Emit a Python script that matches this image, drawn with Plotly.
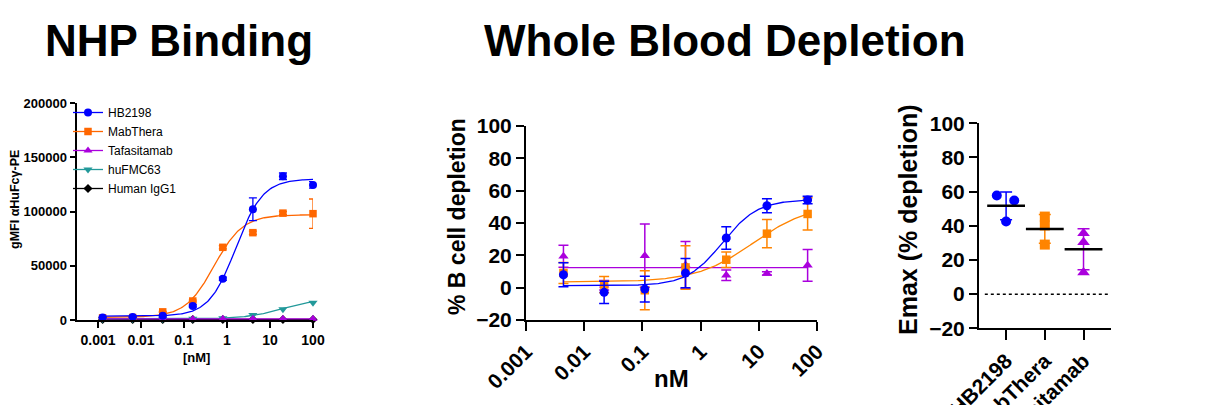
import numpy as np
import plotly.graph_objects as go

# ---------------- data: NHP binding ----------------
bind_dose = [0.00128, 0.0064, 0.032, 0.16, 0.8, 4, 20, 100]
hb_bind = [2200, 2800, 4000, 13000, 38000, 102000, 132500, 124500]
hb_bind_err = [300, 300, 500, 1000, 1500, 10500, 3000, 3000]
mab_bind = [2000, 2300, 7500, 17500, 67000, 80500, 98500, 98000]
mab_bind_err = [300, 300, 500, 800, 1500, 1500, 1500, 13500]
tafa_bind = [1000, 1000, 1000, 1000, 1100, 1100, 1200, 1200]
hufmc_bind = [900, 900, 1000, 1200, 1600, 4500, 10000, 16000]
igg_bind = [500, 500, 500, 500, 500, 500, 500, 500]

# 4PL fit parameters (bottom, top, EC50, hill)
hb_bind_fit = (3500, 130000, 1.62, 1.39)
mab_bind_fit = (2500, 97000, 0.5, 1.3)
tafa_bind_fit = (1100, 1100, 1.0, 1.0)
hufmc_bind_fit = (1000, 20000, 20.0, 1.0)
igg_bind_fit = (500, 500, 1.0, 1.0)

# ---------------- data: whole blood depletion ----------------
dep_dose = [0.0044, 0.022, 0.11, 0.55, 2.76, 13.8, 69]
hb_dep = [8.0, -2.9, -0.9, 9.0, 30.7, 50.7, 54.2]
hb_dep_err = [7.4, 6.9, 8.0, 9.0, 7.0, 4.3, 2.3]
mab_dep = [9.1, 1.9, -1.6, 12.5, 17.3, 33.4, 45.6]
mab_dep_err = [6.5, 5.0, 12.0, 13.5, 4.8, 8.7, 10.0]
tafa_dep = [19.4, 1.5, 19.8, 14.0, 7.7, 8.8, 13.8]
tafa_dep_err = [6.8, 3.0, 19.6, 14.5, 3.2, 1.0, 9.8]

hb_dep_fit = (1.2, 54.5, 2.37, 1.43)
mab_dep_fit = (3.5, 52.0, 8.1, 0.886)
tafa_dep_fit = (12.4, 12.4, 1.0, 1.0)

# ---------------- data: Emax ----------------
groups = ["HB2198", "MabThera", "Tafasitamab"]
hb_emax = [57.7, 54.8, 42.5]
mab_emax = [45.4, 40.2, 29.0]
tafa_emax = [35.7, 30.4, 12.7]
hb_jitter = [-0.24, 0.21, 0.0]

BLUE = "#0000FF"
ORANGE_L = "#FF6600"
ORANGE = "#FF8400"
PURPLE = "#AA00DD"
TEAL = "#22999A"
BLACK = "#000000"

FONT = "Liberation Sans"


def four_pl(x, p):
    b, t, c, h = p
    x = np.asarray(x, dtype=float)
    return b + (t - b) / (1.0 + (c / x) ** h)


def curve_x(doses):
    return np.logspace(np.log10(min(doses)), np.log10(max(doses)), 200)


fig = go.Figure()

# ---------------- left panel ----------------
left_series = [
    ("Human IgG1", igg_bind, None, igg_bind_fit, BLACK, "diamond", 7, 5),
    ("huFMC63", hufmc_bind, None, hufmc_bind_fit, TEAL, "triangle-down", 8, 4),
    ("Tafasitamab", tafa_bind, None, tafa_bind_fit, PURPLE, "triangle-up", 8, 3),
    ("MabThera", mab_bind, mab_bind_err, mab_bind_fit, ORANGE_L, "square", 7.5, 2),
    ("HB2198", hb_bind, hb_bind_err, hb_bind_fit, BLUE, "circle", 8, 1),
]
for name, vals, err, fit, col, sym, sz, rank in left_series:
    cx = curve_x(bind_dose)
    fig.add_trace(go.Scatter(x=cx, y=four_pl(cx, fit), mode="lines",
                             line=dict(color=col, width=1.3), showlegend=False,
                             hoverinfo="skip", xaxis="x", yaxis="y", cliponaxis=False))
    fig.add_trace(go.Scatter(
        x=bind_dose, y=vals, mode="markers",
        marker=dict(color=col, symbol=sym, size=sz, line=dict(width=0)),
        error_y=(dict(type="data", array=err, color=col, thickness=1.3, width=4)
                 if err is not None else None),
        showlegend=False, xaxis="x", yaxis="y", cliponaxis=False))
    fig.add_trace(go.Scatter(x=[None], y=[None], mode="lines+markers", name=name,
                             line=dict(color=col, width=1.3),
                             marker=dict(color=col, symbol=sym, size=sz),
                             legendrank=rank, xaxis="x", yaxis="y"))

# ---------------- middle panel ----------------
mid_series = [
    (tafa_dep, tafa_dep_err, tafa_dep_fit, PURPLE, "triangle-up", 9),
    (mab_dep, mab_dep_err, mab_dep_fit, ORANGE, "square", 8.5),
    (hb_dep, hb_dep_err, hb_dep_fit, BLUE, "circle", 9),
]
for vals, err, fit, col, sym, sz in mid_series:
    cx = curve_x(dep_dose)
    fig.add_trace(go.Scatter(x=cx, y=four_pl(cx, fit), mode="lines",
                             line=dict(color=col, width=1.3), showlegend=False,
                             hoverinfo="skip", xaxis="x2", yaxis="y2"))
    fig.add_trace(go.Scatter(
        x=dep_dose, y=vals, mode="markers",
        marker=dict(color=col, symbol=sym, size=sz, line=dict(width=0)),
        error_y=dict(type="data", array=err, color=col, thickness=1.5, width=5),
        showlegend=False, xaxis="x2", yaxis="y2", cliponaxis=False))

# ---------------- right panel ----------------
right_series = [
    (0, hb_emax, hb_jitter, BLUE, "circle", 10),
    (1, mab_emax, [0, 0, 0], ORANGE, "square", 10),
    (2, tafa_emax, [0, 0, 0], PURPLE, "triangle-up", 11),
]
means = []
for gi, vals, jit, col, sym, sz in right_series:
    m = float(np.mean(vals))
    sd = float(np.std(vals, ddof=1))
    means.append(m)
    fig.add_trace(go.Scatter(
        x=[gi], y=[m], mode="markers",
        marker=dict(color="rgba(0,0,0,0)", size=1),
        error_y=dict(type="data", array=[sd], color=col, thickness=1.5, width=6),
        showlegend=False, xaxis="x3", yaxis="y3", cliponaxis=False))
    fig.add_trace(go.Scatter(
        x=[gi + j for j in jit], y=vals, mode="markers",
        marker=dict(color=col, symbol=sym, size=sz, line=dict(width=0)),
        showlegend=False, xaxis="x3", yaxis="y3", cliponaxis=False))
fig.add_trace(go.Scatter(
    x=[0, 1, 2], y=means, mode="markers",
    marker=dict(symbol="line-ew", size=27, line=dict(color=BLACK, width=2.5)),
    showlegend=False, xaxis="x3", yaxis="y3", cliponaxis=False))

# the page places the figure 8px from the top-left corner of the window
OFF = 8
W, H = 1209 - OFF, 405 - OFF


def px_x(a, b):
    return [(a - OFF) / W, (b - OFF) / W]


def px_y(top, bottom):
    return [1 - (bottom - OFF) / H, 1 - (top - OFF) / H]


def bold(size):
    return dict(family=FONT, size=size, color="black", weight="bold")


axis_common = dict(showline=True, linecolor="black", showgrid=False,
                   zeroline=False, ticks="outside", tickcolor="black",
                   automargin=False)

decades = [0.001, 0.01, 0.1, 1, 10, 100]
decade_txt = ["0.001", "0.01", "0.1", "1", "10", "100"]

fig.update_layout(
    width=W, height=H,
    margin=dict(l=0, r=0, t=0, b=0, autoexpand=False),
    paper_bgcolor="white", plot_bgcolor="white",
    showlegend=True,
    legend=dict(x=(68 - OFF) / W, y=1 - (98 - OFF) / H, xanchor="left", yanchor="top",
                font=dict(family=FONT, size=12, color="black"),
                bgcolor="rgba(0,0,0,0)", itemwidth=30, tracegroupgap=0),
    xaxis=dict(domain=px_x(76.5, 313), type="log", range=[-3.5, 2.0],
               tickvals=decades, ticktext=decade_txt, tickfont=bold(14),
               ticklen=6, tickwidth=1.5, linewidth=2, anchor="y", **axis_common),
    yaxis=dict(domain=px_y(103, 320), range=[0, 200000],
               tickvals=[0, 50000, 100000, 150000, 200000],
               ticktext=["0", "50000", "100000", "150000", "200000"],
               tickfont=bold(13), ticklen=5, tickwidth=1.5, linewidth=2,
               anchor="x", **axis_common),
    xaxis2=dict(domain=px_x(526, 817), type="log", range=[-3, 2],
                tickvals=decades, ticktext=decade_txt, tickfont=bold(21),
                tickangle=-45, ticklen=9, tickwidth=2, linewidth=2,
                anchor="y2", **axis_common),
    yaxis2=dict(domain=px_y(126, 320), range=[-20, 100], dtick=20, tick0=0,
                tickfont=bold(21), ticklen=8, tickwidth=2, linewidth=2,
                anchor="x2", **axis_common),
    xaxis3=dict(domain=px_x(979, 1111), range=[-0.7, 2.71],
                tickvals=[0, 1, 2], ticktext=groups, tickfont=bold(21),
                tickangle=-45, ticklen=10, tickwidth=2, linewidth=2,
                anchor="y3", **axis_common),
    yaxis3=dict(domain=px_y(123.3, 328.3), range=[-20, 100], dtick=20, tick0=0,
                tickfont=bold(21), ticklen=8, tickwidth=2, linewidth=2,
                anchor="x3", **axis_common),
)

fig.add_shape(type="line", xref="x3", yref="y3", x0=-0.55, x1=2.7, y0=0, y1=0,
              line=dict(color="black", width=1.5, dash="dot"))


def ann(text, x, y, size, angle=0):
    fig.add_annotation(text=text, x=(x - OFF) / W, y=1 - (y - OFF) / H,
                       xref="paper", yref="paper",
                       showarrow=False, xanchor="center", yanchor="middle",
                       textangle=angle, font=bold(size))


ann("NHP Binding", 179, 41, 44)
ann("Whole Blood Depletion", 725, 41, 44)
ann("gMFI αHuFcγ-PE", 15, 200, 12.5, -90)
ann("[nM]", 196, 357, 13)
ann("% B cell depletion", 457, 217, 23, -90)
ann("nM", 671, 378, 24)
ann("Emax (% depletion)", 908, 220, 25, -90)

fig.write_html("out.html")
